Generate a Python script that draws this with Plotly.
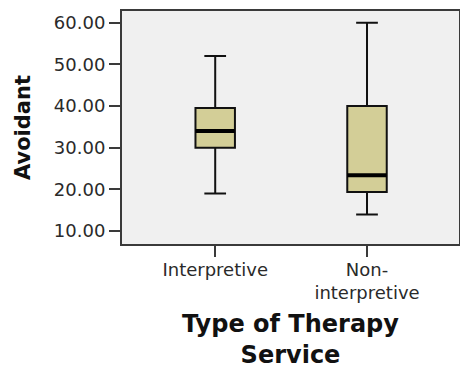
import plotly.graph_objects as go

categories = ["Interpretive", "Non-<br>interpretive"]
lower_whisker = [19.0, 14.0]
q1 = [30.0, 19.4]
median = [34.0, 23.4]
q3 = [39.5, 40.0]
upper_whisker = [52.0, 60.0]
y_ticks = [10, 20, 30, 40, 50, 60]

fig = go.Figure()
fig.add_trace(go.Box(
    x=categories, q1=q1, median=median, q3=q3,
    lowerfence=lower_whisker, upperfence=upper_whisker,
    fillcolor="#D3CE97", line=dict(color="#111111", width=2),
    width=0.26, whiskerwidth=0.55, boxpoints=False, showlegend=False,
))
# thick median bar drawn as a zero-height box
fig.add_trace(go.Box(
    x=categories, q1=median, median=median, q3=median,
    lowerfence=median, upperfence=median,
    fillcolor="rgba(0,0,0,0)", line=dict(color="#000000", width=4),
    width=0.26, whiskerwidth=0, boxpoints=False, showlegend=False,
    hoverinfo="skip",
))

axis_font = dict(family="DejaVu Sans", size=18, color="#2a2a2a")
fig.update_layout(
    width=460, height=369,
    margin=dict(l=122, r=1, t=11, b=125),
    paper_bgcolor="white", plot_bgcolor="#F0F0F0",
    boxmode="overlay",
    xaxis=dict(
        range=[-0.614, 1.606], showgrid=False, zeroline=False,
        showline=True, mirror=True, linecolor="#3a3a3a", linewidth=2,
        ticks="outside", ticklen=11, tickwidth=2, tickcolor="#3a3a3a",
        tickfont=axis_font, automargin=False, ticklabelstandoff=-3,
        title=dict(text="Type of Therapy<br>Service",
                   font=dict(family="DejaVu Sans", size=24, color="#111111", weight="bold"),
                   standoff=19),
    ),
    yaxis=dict(
        range=[6.9, 62.8], showgrid=False, zeroline=False,
        showline=True, mirror=True, linecolor="#3a3a3a", linewidth=2,
        ticks="outside", ticklen=11, tickwidth=2, tickcolor="#3a3a3a",
        tickvals=y_ticks, tickformat=".2f", tickfont=axis_font, automargin=False,
        title=dict(text="Avoidant",
                   font=dict(family="DejaVu Sans", size=21, color="#111111", weight="bold"),
                   standoff=18),
    ),
)
fig.write_html("out.html")
